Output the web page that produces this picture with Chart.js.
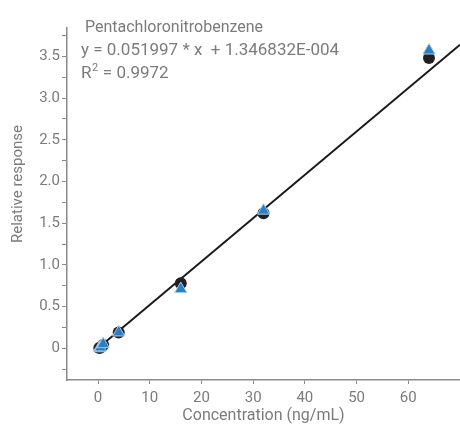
<!DOCTYPE html>
<html>
<head>
<meta charset="utf-8">
<script src="https://cdn.jsdelivr.net/npm/chart.js@4"></script>
<style>
  html, body { margin: 0; padding: 0; background: #fff; }
  #wrap { width: 460px; height: 426px; }
</style>
</head>
<body>
<div id="wrap"><canvas id="calChart"></canvas></div>
<script>
// calibration data
const concentrations = [0.25, 0.5, 1, 4, 16, 32, 64];
const responseCircle = [0.005, 0.01, 0.04, 0.19, 0.78, 1.62, 3.48];
const responseTriangle = [0.0, 0.01, 0.05, 0.19, 0.71, 1.65, 3.57];
const fitX = [0, 70];
const fitY = [0.0001, 3.6399];
const xTickValues = [0, 10, 20, 30, 40, 50, 60, 70];
const yTickValues = [-0.25, 0, 0.25, 0.5, 0.75, 1.0, 1.25, 1.5, 1.75, 2.0, 2.25, 2.5, 2.75, 3.0, 3.25, 3.5, 3.75];
const compoundName = ' Pentachloronitrobenzene';
const fitEquation = 'y = 0.051997 * x  + 1.346832E-004';
const rSquared = '0.9972';
const yTitle = 'Relative response';

const grey = '#7b7b7b';
const axisGrey = '#8a8a8a';

const toPoints = (xs, ys) => xs.map((x, i) => ({ x: x, y: ys[i] }));

// text block in the upper left, plus the y title placed like the original
const notePlugin = {
    id: 'note',
    afterDraw(chart) {
        const c = chart.ctx;
        c.save();
        c.fillStyle = grey;
        c.textBaseline = 'alphabetic';
        c.font = '16px Roboto';
        c.fillText(compoundName, 81, 32);
        c.font = '17px Roboto';
        c.fillText(fitEquation, 81, 55);
        let x = 81;
        c.fillText('R', x, 78);
        x += c.measureText('R').width;
        c.font = '11px Roboto';
        c.fillText('2', x + 0.5, 71);
        x += c.measureText('2').width + 1;
        c.font = '17px Roboto';
        c.fillText(' = ' + rSquared, x, 78);

        c.translate(18, 184);
        c.rotate(-Math.PI / 2);
        c.font = '15px Roboto';
        c.textAlign = 'center';
        c.textBaseline = 'middle';
        c.fillText(yTitle, 0, 0);
        c.restore();
    }
};

const ctx = document.getElementById('calChart').getContext('2d');
const calChart = new Chart(ctx, {
    type: 'scatter',
    data: {
        datasets: [{
            label: 'Fit',
            type: 'line',
            data: toPoints(fitX, fitY),
            borderColor: '#1a1a1a',
            borderWidth: 2,
            pointRadius: 0,
            fill: false,
            order: 3
        }, {
            label: 'Replicate 1',
            data: toPoints(concentrations, responseCircle),
            pointStyle: 'circle',
            pointRadius: 6,
            backgroundColor: '#231f20',
            borderColor: '#231f20',
            borderWidth: 0,
            order: 2
        }, {
            label: 'Replicate 2',
            data: toPoints(concentrations, responseTriangle),
            pointStyle: 'triangle',
            pointRadius: 7,
            backgroundColor: '#2b7ec1',
            borderColor: '#9fcdf0',
            borderWidth: 1,
            order: 1
        }]
    },
    options: {
        responsive: true,
        maintainAspectRatio: false,
        animation: false,
        layout: { autoPadding: false, padding: { top: 28, right: 0, left: 0, bottom: 0 } },
        plugins: {
            legend: { display: false },
            tooltip: { enabled: false }
        },
        scales: {
            x: {
                type: 'linear',
                min: -6,
                max: 70,
                afterBuildTicks: (scale) => { scale.ticks = xTickValues.map(v => ({ value: v })); },
                afterFit: (scale) => {
                    scale.height = 46;
                    scale.paddingLeft = 0;
                    scale.paddingRight = 0;
                },
                grid: {
                    drawOnChartArea: false,
                    drawTicks: true,
                    tickLength: 4,
                    color: axisGrey
                },
                border: { display: true, color: axisGrey, width: 1.5 },
                ticks: {
                    color: grey,
                    font: { family: 'Roboto', size: 15 },
                    padding: 5,
                    maxRotation: 0,
                    callback: (v) => (v > 60 ? '' : String(v))
                },
                title: {
                    display: true,
                    text: 'Concentration (ng/mL)',
                    color: grey,
                    font: { family: 'Roboto', size: 16 },
                    padding: { top: 0, bottom: 0 }
                }
            },
            y: {
                type: 'linear',
                min: -0.38,
                max: 3.84,
                afterBuildTicks: (scale) => { scale.ticks = yTickValues.map(v => ({ value: v })); },
                afterFit: (scale) => {
                    scale.width = 67;
                    scale.paddingTop = 0;
                    scale.paddingBottom = 0;
                },
                grid: {
                    drawOnChartArea: false,
                    drawTicks: true,
                    tickLength: 5,
                    color: axisGrey,
                    lineWidth: 1
                },
                border: { display: true, color: axisGrey, width: 1.5 },
                ticks: {
                    color: grey,
                    font: { family: 'Roboto', size: 15 },
                    padding: 2,
                    callback: (v) => {
                        if (Math.abs(v * 2 - Math.round(v * 2)) > 1e-6) return '';
                        return v === 0 ? '0' : v.toFixed(1);
                    }
                },
                title: { display: false }
            }
        }
    },
    plugins: [notePlugin]
});
</script>
</body>
</html>
